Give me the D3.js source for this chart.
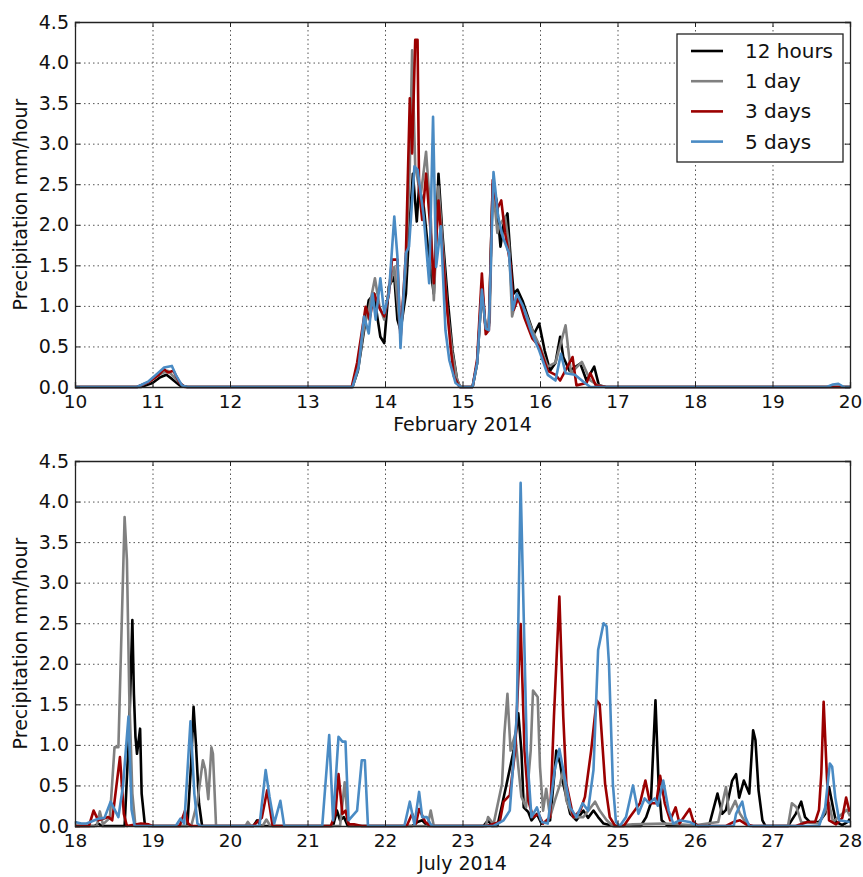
<!DOCTYPE html>
<html>
<head>
<meta charset="utf-8">
<script src="https://cdn.jsdelivr.net/npm/d3@7"></script>
<style>
  body { margin: 0; background: white; }
  svg { font-family: "DejaVu Sans", sans-serif; }
  .grid line { stroke: #555; stroke-width: 1; stroke-dasharray: 1.5,3; }
  .grid path { display: none; }
</style>
</head>
<body>
<div id="chart"></div>
<script>
// series names and colours
const seriesNames  = ["12 hours", "1 day", "3 days", "5 days"];
const seriesColors = ["#000000", "#808080", "#9b0000", "#4a8bc4"];

// y ticks shared by both panels
const yTicks = [0, 0.5, 1, 1.5, 2, 2.5, 3, 3.5, 4, 4.5];

// February 2014 panel: [day, mm/hour]
const febDays = [10, 11, 12, 13, 14, 15, 16, 17, 18, 19, 20];
const feb12h = [[10,0],[10.85,0],[11.0,0.05],[11.1,0.12],[11.18,0.15],[11.25,0.1],[11.35,0.02],[11.45,0],
  [13.58,0],[13.65,0.2],[13.73,0.7],[13.79,1.07],[13.86,1.15],[13.9,0.87],[13.94,0.62],[13.99,0.54],[14.05,1.24],
  [14.12,1.36],[14.16,0.83],[14.2,0.7],[14.27,1.15],[14.31,1.9],[14.36,2.63],[14.41,2.04],[14.44,2.47],[14.5,2.22],
  [14.57,1.57],[14.63,1.15],[14.69,2.63],[14.74,1.9],[14.81,1.07],[14.87,0.46],[14.93,0.09],[14.97,0],
  [15.13,0],[15.19,0.3],[15.25,1.2],[15.3,0.72],[15.34,0.75],[15.39,2.5],[15.44,2.3],[15.49,1.73],[15.53,2.0],
  [15.58,2.14],[15.62,1.6],[15.66,1.15],[15.71,1.2],[15.78,1.05],[15.85,0.85],[15.92,0.65],[15.99,0.78],[16.06,0.45],
  [16.13,0.2],[16.2,0.3],[16.26,0.62],[16.3,0.37],[16.38,0.2],[16.52,0.29],[16.6,0.08],[16.7,0.25],[16.76,0.02],
  [16.85,0],[20,0]];
const feb1d = [[10,0],[10.8,0],[10.95,0.06],[11.1,0.16],[11.2,0.2],[11.28,0.12],[11.4,0.01],[11.45,0],
  [13.58,0],[13.65,0.22],[13.73,0.74],[13.79,0.95],[13.87,1.34],[13.93,0.99],[13.99,0.83],[14.05,1.2],[14.12,1.48],
  [14.16,1.07],[14.2,0.66],[14.27,1.48],[14.32,2.72],[14.35,4.15],[14.39,2.72],[14.46,2.35],[14.53,2.9],[14.59,2.1],
  [14.63,1.07],[14.69,2.47],[14.74,1.81],[14.8,0.99],[14.87,0.42],[14.93,0.09],[14.97,0],
  [15.13,0],[15.19,0.3],[15.25,1.25],[15.3,0.7],[15.35,0.8],[15.39,2.5],[15.45,1.9],[15.48,2.0],[15.55,2.1],
  [15.6,1.75],[15.64,0.87],[15.7,1.1],[15.8,0.95],[15.9,0.7],[16.0,0.5],[16.1,0.25],[16.2,0.3],[16.33,0.76],
  [16.4,0.17],[16.54,0.31],[16.65,0.08],[16.75,0.02],[16.85,0],[20,0]];
const feb3d = [[10,0],[10.8,0],[10.95,0.06],[11.08,0.15],[11.15,0.22],[11.2,0.18],[11.27,0.2],[11.35,0.05],[11.42,0],
  [13.57,0],[13.64,0.3],[13.72,0.8],[13.75,0.99],[13.8,0.83],[13.86,1.15],[13.89,1.07],[13.94,0.95],[13.99,0.87],
  [14.05,1.15],[14.09,1.57],[14.16,1.57],[14.2,0.58],[14.27,1.65],[14.32,3.56],[14.35,2.88],[14.39,4.28],[14.42,4.28],
  [14.44,2.43],[14.48,2.06],[14.53,2.63],[14.59,1.9],[14.63,1.28],[14.69,2.3],[14.74,1.69],[14.81,0.87],[14.85,0.46],
  [14.89,0.13],[14.96,0],
  [15.13,0],[15.19,0.35],[15.25,1.4],[15.3,0.65],[15.34,0.7],[15.39,2.55],[15.45,2.2],[15.5,2.3],[15.55,1.9],
  [15.62,1.5],[15.66,0.95],[15.72,1.1],[15.8,0.85],[15.9,0.6],[15.99,0.5],[16.1,0.2],[16.2,0.15],[16.26,0.08],
  [16.42,0.37],[16.47,0.02],[16.6,0.05],[16.65,0.17],[16.72,0.02],[16.85,0],[20,0]];
const feb5d = [[10,0],[10.8,0],[10.95,0.07],[11.08,0.18],[11.15,0.24],[11.25,0.26],[11.3,0.15],[11.38,0.02],[11.45,0],
  [13.58,0],[13.66,0.25],[13.73,0.87],[13.79,0.66],[13.84,1.15],[13.88,0.83],[13.94,1.34],[13.99,0.91],[14.05,1.15],
  [14.12,2.1],[14.16,1.61],[14.2,0.48],[14.27,1.65],[14.31,1.73],[14.38,2.72],[14.42,2.68],[14.5,2.1],[14.57,1.28],
  [14.62,3.33],[14.66,1.48],[14.72,1.98],[14.78,0.7],[14.83,0.33],[14.91,0.05],[14.98,0],
  [15.13,0],[15.19,0.3],[15.25,1.2],[15.3,0.72],[15.34,0.7],[15.4,2.65],[15.46,2.1],[15.52,1.85],[15.6,1.65],
  [15.65,0.95],[15.7,1.15],[15.78,1.0],[15.88,0.7],[15.99,0.45],[16.1,0.15],[16.2,0.08],[16.27,0.41],[16.33,0.17],
  [16.45,0.15],[16.58,0.05],[16.65,0],[19.7,0],[19.78,0.03],[19.85,0.04],[19.92,0],[20,0]];

// July 2014 panel: [day, mm/hour]
const julDays = [18, 19, 20, 21, 22, 23, 24, 25, 26, 27, 28];
const jul12h = [[18,0],[18.25,0],[18.3,0.03],[18.35,0],[18.64,0],[18.7,1.2],[18.74,2.54],[18.76,1.63],[18.78,1.1],
  [18.8,0.89],[18.84,1.2],[18.86,0.4],[18.9,0.03],[18.95,0],[19.45,0],[19.5,0.8],[19.53,1.47],[19.56,1.02],[19.6,0.28],
  [19.64,0],[20.3,0],[20.35,0.07],[20.4,0],[21.33,0],[21.38,0.19],[21.42,0.07],[21.47,0.11],[21.52,0],
  [22.35,0],[22.42,0.05],[22.48,0.07],[22.55,0],[23.27,0],[23.33,0.07],[23.38,0],[23.45,0],[23.57,0.52],[23.66,0.93],
  [23.72,1.39],[23.76,0.93],[23.79,0.23],[23.85,0.17],[23.89,0.07],[23.96,0.15],[24.02,0.03],[24.13,0.07],[24.19,0.69],
  [24.21,0.93],[24.26,0.77],[24.3,0.52],[24.39,0.15],[24.47,0.07],[24.56,0.19],[24.62,0.1],[24.69,0.19],[24.75,0.11],
  [24.82,0.03],[24.95,0],[25.3,0],[25.37,0.11],[25.43,0.28],[25.49,1.55],[25.53,0.52],[25.57,0.07],[25.65,0],
  [26.18,0],[26.29,0.4],[26.35,0.15],[26.4,0.2],[26.48,0.56],[26.53,0.64],[26.57,0.35],[26.63,0.56],[26.7,0.4],
  [26.75,1.18],[26.78,1.06],[26.82,0.44],[26.87,0.07],[26.91,0],[27.2,0],[27.3,0.15],[27.37,0.3],[27.42,0.11],
  [27.48,0.05],[27.6,0.05],[27.68,0.15],[27.73,0.48],[27.78,0.23],[27.82,0.05],[27.9,0.01],[27.97,0.05],[28,0.09]];
const jul1d = [[18,0],[18.28,0],[18.32,0.18],[18.36,0.02],[18.45,0.1],[18.51,0.97],[18.56,0.97],[18.64,3.81],
  [18.67,3.28],[18.7,1.63],[18.74,0.4],[18.78,0],[19.5,0],[19.58,0.3],[19.65,0.81],[19.68,0.7],[19.72,0.33],
  [19.76,0.97],[19.78,0.89],[19.82,0],[20.2,0],[20.23,0.05],[20.27,0],[20.42,0],[20.47,0.08],[20.52,0],
  [21.42,0],[21.48,0.54],[21.52,0.05],[21.56,0],[22.55,0],[22.59,0.19],[22.63,0],[23.3,0],[23.33,0.11],[23.4,0.02],
  [23.51,0.52],[23.54,1.13],[23.58,1.63],[23.62,0.93],[23.68,1.13],[23.72,0.73],[23.76,0.36],[23.82,0.23],[23.88,0.93],
  [23.91,1.67],[23.97,1.59],[24.0,0.73],[24.04,0.19],[24.08,0.46],[24.13,0.11],[24.19,0.31],[24.26,0.52],[24.3,0.69],
  [24.34,0.31],[24.43,0.11],[24.56,0.11],[24.64,0.21],[24.71,0.3],[24.77,0.19],[24.86,0.07],[24.94,0],[25.2,0.02],
  [25.6,0.03],[26.0,0.01],[26.3,0.05],[26.4,0.48],[26.44,0.15],[26.52,0.31],[26.58,0.15],[26.65,0.05],[26.72,0],
  [27.2,0],[27.25,0.28],[27.31,0.23],[27.37,0.05],[27.6,0.03],[27.73,0.28],[27.78,0.05],[27.9,0.15],[27.96,0.2],[28,0.12]];
const jul3d = [[18,0],[18.18,0],[18.24,0.19],[18.3,0.07],[18.43,0.11],[18.48,0.07],[18.58,0.85],[18.63,0.15],[18.67,0],
  [18.85,0.03],[18.95,0.02],[19.0,0],[19.35,0],[19.42,0.19],[19.46,0.03],[19.5,0],[20.3,0],[20.35,0.05],[20.41,0.1],
  [20.48,0.44],[20.55,0],[21.3,0],[21.36,0.15],[21.4,0.64],[21.45,0.15],[21.49,0.19],[21.53,0.02],[21.6,0.02],[21.7,0],
  [22.28,0],[22.35,0.15],[22.4,0.03],[22.44,0.21],[22.52,0.05],[22.58,0],[23.31,0],[23.48,0.05],[23.53,0.3],[23.61,0.38],
  [23.68,0.93],[23.75,2.49],[23.8,0.93],[23.85,0.31],[23.91,0.11],[23.98,0.15],[24.04,0.03],[24.13,0.11],[24.18,1.35],
  [24.25,2.83],[24.3,1.35],[24.34,0.52],[24.43,0.11],[24.52,0.19],[24.58,0.36],[24.66,0.93],[24.73,1.55],[24.77,1.5],
  [24.84,0.52],[24.9,0.11],[24.97,0],[25.08,0],[25.16,0.11],[25.29,0.28],[25.36,0.56],[25.42,0.28],[25.5,0.28],
  [25.55,0.62],[25.61,0.28],[25.68,0.07],[25.75,0.23],[25.8,0.03],[25.93,0.21],[25.98,0.05],[26.04,0],[26.4,0],
  [26.5,0.05],[26.58,0.07],[26.66,0.02],[26.75,0],[27.3,0],[27.45,0.05],[27.55,0.05],[27.6,0.2],[27.63,0.65],
  [27.66,1.53],[27.7,0.65],[27.73,0.07],[27.82,0.02],[27.9,0.1],[27.95,0.35],[27.99,0.19],[28,0.2]];
const jul5d = [[18,0.05],[18.08,0.03],[18.15,0.03],[18.3,0.09],[18.38,0.1],[18.46,0.3],[18.56,0.11],[18.62,0.5],
  [18.69,1.35],[18.73,0.2],[18.77,0],[19.3,0],[19.36,0.09],[19.41,0.03],[19.49,1.29],[19.54,0.4],[19.58,0.03],[19.62,0],
  [20.38,0],[20.46,0.69],[20.51,0.36],[20.57,0.03],[20.65,0.31],[20.7,0],[21.19,0],[21.28,1.12],[21.33,0.07],[21.4,1.1],
  [21.45,1.04],[21.49,1.04],[21.53,0.07],[21.64,0.19],[21.7,0.81],[21.74,0.81],[21.78,0],[22.25,0],[22.32,0.3],
  [22.38,0.02],[22.44,0.42],[22.48,0.11],[22.54,0.11],[22.59,0.02],[22.62,0],[23.4,0],[23.53,0.07],[23.61,0.19],
  [23.7,1.35],[23.75,4.23],[23.79,2.58],[23.83,0.93],[23.89,0.11],[23.96,0.23],[24.02,0.05],[24.1,0.03],[24.19,0.69],
  [24.25,0.95],[24.3,0.69],[24.39,0.23],[24.47,0.11],[24.55,0.28],[24.62,0.19],[24.69,0.69],[24.75,2.17],[24.82,2.5],
  [24.86,2.46],[24.89,2.0],[24.94,0.52],[24.98,0.05],[25.03,0],[25.11,0.11],[25.2,0.5],[25.27,0.15],[25.35,0.34],
  [25.41,0.28],[25.48,0.34],[25.52,0.25],[25.59,0.56],[25.66,0.19],[25.72,0.03],[25.8,0.07],[25.93,0.05],[26.03,0],
  [26.5,0],[26.53,0.15],[26.57,0.23],[26.61,0.3],[26.65,0.11],[26.7,0],[27.6,0],[27.68,0.23],[27.74,0.77],[27.77,0.73],
  [27.81,0.35],[27.86,0.07],[28,0.05]];

function main() {

	const SVG_WIDTH = 863;
	const SVG_HEIGHT = 877;

	const svg = d3.select("#chart")
		.append("svg")
		.attr("width", SVG_WIDTH)
		.attr("height", SVG_HEIGHT);

	// one panel = axes box with grid, inward ticks, lines
	function panel(top, days, series, xLabel, withLegend) {
		const left = 75, width = 775, height = 365;

		const x = d3.scaleLinear().domain([days[0], days[days.length - 1]]).range([0, width]);
		const y = d3.scaleLinear().domain([0, 4.5]).range([height, 0]);

		const g = svg.append("g").attr("transform", "translate(" + left + "," + top + ")");

		// dotted grid
		g.append("g").attr("class", "grid")
			.attr("transform", "translate(0," + height + ")")
			.call(d3.axisBottom(x).tickValues(days).tickSize(-height).tickFormat(""));
		g.append("g").attr("class", "grid")
			.call(d3.axisLeft(y).tickValues(yTicks).tickSize(-width).tickFormat(""));

		// lines
		const line = d3.line().x(d => x(d[0])).y(d => y(d[1]));
		series.forEach((s, i) => {
			g.append("path")
				.datum(s)
				.attr("fill", "none")
				.attr("stroke", seriesColors[i])
				.attr("stroke-width", 2.6)
				.attr("stroke-linejoin", "round")
				.attr("d", line);
		});

		// axes with inward ticks on all four sides
		const styleAxis = (sel, size) => {
			sel.select(".domain").attr("stroke", "#222").attr("stroke-width", 1.3);
			sel.selectAll(".tick line").attr("stroke", "#222");
			sel.selectAll(".tick text").attr("fill", "#111").attr("font-size", size)
				.attr("font-family", "DejaVu Sans, sans-serif");
		};
		g.append("g")
			.attr("transform", "translate(0," + height + ")")
			.call(d3.axisBottom(x).tickValues(days).tickSize(-5).tickFormat(d3.format("d")))
			.call(styleAxis, 18.5)
			.selectAll(".tick text").attr("dy", "0.71em").attr("y", 8);
		g.append("g")
			.call(d3.axisTop(x).tickValues(days).tickSize(-5).tickFormat(""))
			.call(styleAxis, 19);
		g.append("g")
			.call(d3.axisLeft(y).tickValues(yTicks).tickSize(-5).tickPadding(6).tickFormat(d3.format(".1f")))
			.call(styleAxis, 19);
		g.append("g")
			.attr("transform", "translate(" + width + ",0)")
			.call(d3.axisRight(y).tickValues(yTicks).tickSize(-5).tickFormat(""))
			.call(styleAxis, 19);

		// axis labels
		g.append("text")
			.attr("x", width / 2)
			.attr("y", height + 44)
			.attr("text-anchor", "middle")
			.attr("font-size", 19)
			.attr("fill", "#111")
			.text(xLabel);
		g.append("text")
			.attr("transform", "translate(" + (-48) + "," + (height / 2) + ") rotate(-90)")
			.attr("text-anchor", "middle")
			.attr("font-size", 19)
			.attr("fill", "#111")
			.text("Precipitation mm/hour");

		if (withLegend) {
			const lg = g.append("g").attr("transform", "translate(" + (677 - left) + "," + (34 - top) + ")");
			lg.append("rect")
				.attr("width", 166).attr("height", 128)
				.attr("fill", "white").attr("stroke", "#222").attr("stroke-width", 1.3);
			seriesNames.forEach((name, i) => {
				const yy = 17 + i * 30.2;
				lg.append("line")
					.attr("x1", 14).attr("x2", 46).attr("y1", yy).attr("y2", yy)
					.attr("stroke", seriesColors[i]).attr("stroke-width", 2.6);
				lg.append("text")
					.attr("x", 68).attr("y", yy + 7)
					.attr("font-size", 20).attr("fill", "#111")
					.text(name);
			});
		}
	}

	panel(22, febDays, [feb12h, feb1d, feb3d, feb5d], "February 2014", true);
	panel(461, julDays, [jul12h, jul1d, jul3d, jul5d], "July 2014", false);
}

function whenDocumentLoaded(action) {
	if (document.readyState === "loading") {
		document.addEventListener("DOMContentLoaded", action);
	} else {
		action();
	}
}

whenDocumentLoaded(() => {
	main()
});
</script>
</body>
</html>
